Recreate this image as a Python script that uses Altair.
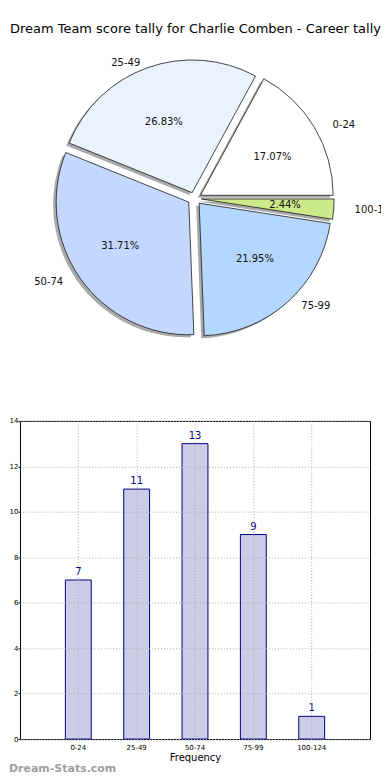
import altair as alt
import pandas as pd

# ---- data ----
categories = ["0-24", "25-49", "50-74", "75-99", "100-124"]
counts = [7, 11, 13, 9, 1]
pie_colors = ["#FFFFFF", "#EAF1FF", "#C4D8FF", "#B3D7FF", "#CCEA8A"]
y_ticks = [0, 2, 4, 6, 8, 10, 12, 14]
title_text = "Dream Team score tally for Charlie Comben - Career tally"
x_title = "Frequency"
watermark = "Dream-Stats.com"

df = pd.DataFrame({"cat": categories, "count": counts, "order": list(range(len(categories)))})

FONT = "DejaVu Sans"
CX, CY = 175, 189      # pie centre in panel pixels
RX, RY = 140, 126      # label ellipse radii
R = 133                # wedge radius
EXPL = 0.05

base = (
    alt.Chart(df)
    .transform_joinaggregate(total="sum(count)")
    .transform_window(cum="sum(count)", sort=[alt.SortField("order")])
    .transform_calculate(
        a0="2*PI*(datum.cum - datum.count)/datum.total",
        a1="2*PI*datum.cum/datum.total",
    )
    .transform_calculate(
        mid="(datum.a0 + datum.a1)/2",
        t0="PI/2 - datum.a1",
        t1="PI/2 - datum.a0",
    )
    .transform_calculate(
        cx=f"{CX} + {EXPL * RX}*cos(datum.mid)",
        cy=f"{CY} - {EXPL * RY}*sin(datum.mid)",
    )
    .transform_calculate(
        sx="datum.cx - 3",
        sy="datum.cy + 2.5",
        lx=f"datum.cx + {1.1 * RX}*cos(datum.mid)",
        ly=f"datum.cy - {1.1 * RY}*sin(datum.mid)",
        px=f"datum.cx + {0.6 * RX}*cos(datum.mid)",
        py=f"datum.cy - {0.6 * RY}*sin(datum.mid)",
        pct="format(100*datum.count/datum.total, '.2f') + '%'",
        right="cos(datum.mid) > 0",
    )
)

shadow = base.mark_arc(radius=R, fill="#555555", fillOpacity=0.5).encode(
    theta=alt.Theta("t0:Q", scale=None, stack=False),
    theta2=alt.Theta2("t1:Q"),
    x=alt.X("sx:Q", scale=None),
    y=alt.Y("sy:Q", scale=None),
)

wedges = base.mark_arc(radius=R, stroke="#1a1a1a", strokeWidth=0.8).encode(
    theta=alt.Theta("t0:Q", scale=None, stack=False),
    theta2=alt.Theta2("t1:Q"),
    x=alt.X("cx:Q", scale=None),
    y=alt.Y("cy:Q", scale=None),
    color=alt.Color("cat:N", scale=alt.Scale(domain=categories, range=pie_colors), legend=None),
)

pct = base.mark_text(fontSize=10, font=FONT, color="#111111", align="center", baseline="middle").encode(
    x=alt.X("px:Q", scale=None),
    y=alt.Y("py:Q", scale=None),
    text="pct:N",
)

lab_r = base.transform_filter("datum.right").mark_text(
    fontSize=10, font=FONT, color="#111111", align="left", baseline="middle", clip=True
).encode(x=alt.X("lx:Q", scale=None), y=alt.Y("ly:Q", scale=None), text="cat:N")

lab_l = base.transform_filter("!datum.right").mark_text(
    fontSize=10, font=FONT, color="#111111", align="right", baseline="middle"
).encode(x=alt.X("lx:Q", scale=None), y=alt.Y("ly:Q", scale=None), text="cat:N")

title = alt.Chart(pd.DataFrame({"t": [title_text]})).mark_text(
    fontSize=13, font=FONT, color="#000000", align="center", baseline="middle"
).encode(x=alt.value(176), y=alt.value(19), text="t:N")

pie = alt.layer(shadow, wedges, pct, lab_r, lab_l, title).properties(
    width=362, height=402, view=alt.ViewBackground(stroke="transparent")
)

# ---- bar chart ----
xenc = alt.X(
    "cat:N",
    sort=categories,
    scale=alt.Scale(paddingInner=0.556, paddingOuter=0.778),
    axis=alt.Axis(
        title=x_title, titleFontSize=10, titleFont=FONT, titleFontWeight="normal", titleColor="#000000",
        titlePadding=2, labelFontSize=7, labelFont=FONT, labelColor="#000000", labelAngle=0,
        labelPadding=4, ticks=False, domain=False, grid=True, gridDash=[1, 2], gridColor="#AAAAAA",
        bandPosition=0.5, zindex=1,
    ),
)
yenc = alt.Y(
    "count:Q",
    scale=alt.Scale(domain=[0, 14], nice=False),
    axis=alt.Axis(
        title=None, values=y_ticks, labelFontSize=7, labelFont=FONT, labelColor="#000000",
        tickSize=2, tickColor="#000000", labelPadding=0, domain=False, grid=True,
        gridDash=[1, 2], gridColor="#AAAAAA", zindex=1, minExtent=0, maxExtent=11,
    ),
)

bars = alt.Chart(df).mark_bar(fill="#CCCCE6", stroke="#000080", strokeWidth=1).encode(x=xenc, y=yenc)
vals = alt.Chart(df).mark_text(dy=-8, color="#000080", fontSize=10, font=FONT).encode(
    x=alt.X("cat:N", sort=categories), y="count:Q", text="count:Q"
)
wm = alt.Chart(pd.DataFrame({"w": [watermark]})).mark_text(
    align="left", baseline="middle", fontSize=11, fontWeight="bold", color="#A0A0A0", font=FONT
).encode(x=alt.value(-11), y=alt.value(349), text="w:N")

barchart = alt.layer(bars, vals, wm).properties(
    width=351, height=319, view=alt.ViewBackground(stroke="#000000", strokeWidth=1)
)

chart = alt.vconcat(pie, barchart, spacing=4).properties(padding=0).configure(font=FONT)

chart.save("out.html", embed_options={"renderer": "svg", "actions": False})
